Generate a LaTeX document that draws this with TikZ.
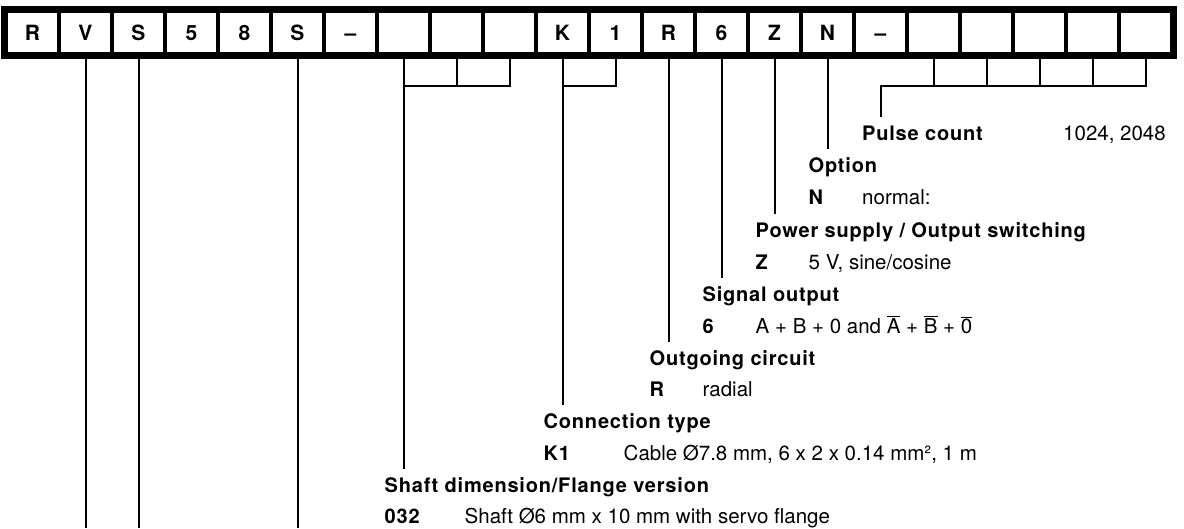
\documentclass[tikz,border=0pt]{standalone}
\usepackage{fontspec}
\setmainfont{TeX Gyre Heros}
\newfontfamily\lblfont{TeX Gyre Heros}[LetterSpace=4]
\newcommand{\ovl}[1]{$\overline{\mbox{#1}}$}
\begin{document}
\begin{tikzpicture}[x=1pt,y=-1pt,
  cell/.style={draw, line width=4.5pt, minimum width=53pt, minimum height=44pt, inner sep=0pt,
    text height=15pt, text depth=0pt, font=\fontsize{21}{24}\selectfont\bfseries},
  conn/.style={line width=2pt},
  lab/.style={anchor=base west, inner sep=0pt, font=\fontsize{20}{24}\lblfont\bfseries},
  val/.style={anchor=base west, inner sep=0pt, font=\fontsize{20.5}{24}\selectfont}]
\useasboundingbox (0,0) rectangle (1184,528);
% code bar
\foreach \t [count=\i from 0] in {R,V,S,5,8,S,--,{},{},{},K,1,R,6,Z,N,--,{},{},{},{},{}}
  \node[cell] (c\i) at ({6+53*(\i+0.5)},32.5) {\t};
\draw[line width=5pt] (c0.north west) rectangle (c21.south east);
% reference coordinates
\coordinate (bot) at (0,528);
\coordinate (hb) at (0,86);
% straight lines to the bottom
\draw[conn] (c1.south) -- (c1.south |- bot);
\draw[conn] (c2.south) -- (c2.south |- bot);
\draw[conn] (c5.south) -- (c5.south |- bot);
% labels
\node[lab] (lpulse) at (862,140) {Pulse count};
\node[val] (vpulse) at (1063,140) {1024, 2048};
\node[lab] (lopt) at (808.5,172) {Option};
\node[lab] (kopt) at (808.5,204) {N};
\node[val] (vopt) at (862,204) {normal:};
\node[lab] (lpow) at (755.5,237) {Power supply / Output switching};
\node[lab] (kpow) at (755.5,269) {Z};
\node[val] (vpow) at (808.5,269) {5 V, sine/cosine};
\node[lab] (lsig) at (702.5,301) {Signal output};
\node[lab] (ksig) at (702.5,333) {6};
\node[val] (vsig) at (755.5,333) {A + B + 0 and \ovl{A} + \ovl{B} + \ovl{0}};
\node[lab] (lout) at (649.5,365) {Outgoing circuit};
\node[lab] (kout) at (649.5,396) {R};
\node[val] (vout) at (702.5,396) {radial};
\node[lab] (lcon) at (543.5,428) {Connection type};
\node[lab] (kcon) at (543.5,460) {K1};
\node[val] (vcon) at (623.5,460) {Cable Ø7.8 mm, 6 x 2 x 0.14 mm², 1 m};
\node[lab] (lsha) at (384.5,492) {Shaft dimension/Flange version};
\node[lab] (ksha) at (384.5,523) {032};
\node[val] (vsha) at (464.5,523) {Shaft Ø6 mm x 10 mm with servo flange};
% line ends
\coordinate (epulse) at (880.5,117);
\coordinate (eopt) at (827.5,149);
\coordinate (epow) at (774.5,214);
\coordinate (esig) at (721.5,278);
\coordinate (eout) at (668.5,342);
\coordinate (econ) at (562.5,405);
\coordinate (esha) at (403.5,469);
% single lines
\draw[conn] (c15.south) -- (eopt);
\draw[conn] (c14.south) -- (epow);
\draw[conn] (c13.south) -- (esig);
\draw[conn] (c12.south) -- (eout);
% shaft bracket
\draw[conn] (c7.south) -- (c7.south |- hb) -- (c9.south |- hb) -- (c9.south);
\draw[conn] (c8.south) -- (c8.south |- hb);
\draw[conn] (c7.south |- hb) -- (esha);
% connection bracket
\draw[conn] (c10.south) -- (c10.south |- hb) -- (c11.south |- hb) -- (c11.south);
\draw[conn] (c10.south |- hb) -- (econ);
% pulse bracket
\draw[conn] (epulse) -- (epulse |- hb) -- (c21.south |- hb) -- (c21.south);
\foreach \k in {17,18,19,20}
  \draw[conn] (c\k.south) -- (c\k.south |- hb);
\end{tikzpicture}
\end{document}
